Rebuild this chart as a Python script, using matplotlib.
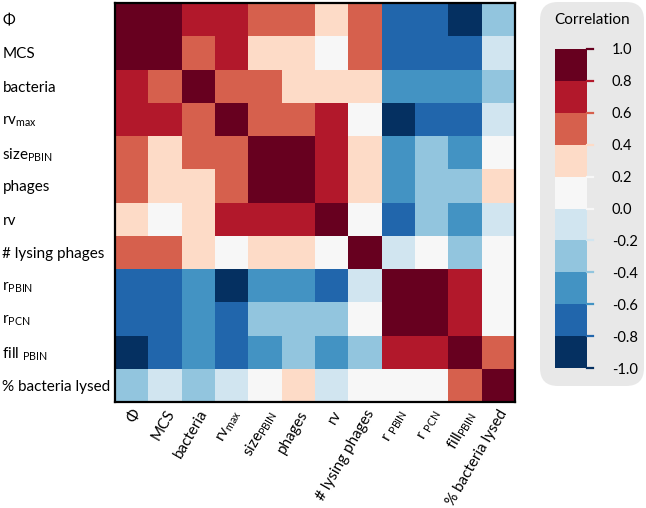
import numpy as np
import matplotlib
matplotlib.use("Agg")
import matplotlib.pyplot as plt
from matplotlib.colors import ListedColormap, BoundaryNorm
from matplotlib.patches import FancyBboxPatch

plt.rcParams['font.family'] = ['Lato', 'DejaVu Sans']
plt.rcParams['mathtext.default'] = 'regular'

# variable names (rows / columns)
row_labels = ['Φ', 'MCS', 'bacteria', r'rv$_{max}$', r'size$_{PBIN}$', 'phages', 'rv',
              '# lysing phages', r'r$_{PBIN}$', r'r$_{PCN}$', r'fill $_{PBIN}$', '% bacteria lysed']
col_labels = ['Φ', 'MCS', 'bacteria', r'rv$_{max}$', r'size$_{PBIN}$', 'phages', 'rv',
              '# lysing phages', r'r $_{PBIN}$', r'r $_{PCN}$', r'fill$_{PBIN}$', '% bacteria lysed']

# correlation values (estimated from the binned colours)
corr = np.array([
    [1.0, 0.9, 0.7, 0.7, 0.5, 0.5, 0.3, 0.5, -0.7, -0.7, -0.9, -0.3],
    [0.9, 1.0, 0.5, 0.7, 0.3, 0.3, 0.1, 0.5, -0.7, -0.7, -0.7, -0.1],
    [0.7, 0.5, 1.0, 0.5, 0.5, 0.3, 0.3, 0.3, -0.5, -0.5, -0.5, -0.3],
    [0.7, 0.7, 0.5, 1.0, 0.5, 0.5, 0.7, 0.1, -0.9, -0.7, -0.7, -0.1],
    [0.5, 0.3, 0.5, 0.5, 1.0, 0.9, 0.7, 0.3, -0.5, -0.3, -0.5, 0.1],
    [0.5, 0.3, 0.3, 0.5, 0.9, 1.0, 0.7, 0.3, -0.5, -0.3, -0.3, 0.3],
    [0.3, 0.1, 0.3, 0.7, 0.7, 0.7, 1.0, 0.1, -0.7, -0.3, -0.5, -0.1],
    [0.5, 0.5, 0.3, 0.1, 0.3, 0.3, 0.1, 1.0, -0.1, 0.1, -0.3, 0.1],
    [-0.7, -0.7, -0.5, -0.9, -0.5, -0.5, -0.7, -0.1, 1.0, 0.9, 0.7, 0.1],
    [-0.7, -0.7, -0.5, -0.7, -0.3, -0.3, -0.3, 0.1, 0.9, 1.0, 0.7, 0.1],
    [-0.9, -0.7, -0.5, -0.7, -0.5, -0.3, -0.5, -0.3, 0.7, 0.7, 1.0, 0.5],
    [-0.3, -0.1, -0.3, -0.1, 0.1, 0.3, -0.1, 0.1, 0.1, 0.1, 0.5, 1.0],
])

bounds = np.linspace(-1, 1, 11)
colors = ['#053061', '#2166ac', '#4393c3', '#92c5de', '#d1e5f0',
          '#f7f7f7', '#fddbc7', '#d6604d', '#b2182b', '#67001f']
cmap = ListedColormap(colors)
norm = BoundaryNorm(bounds, cmap.N)

W, H = 646, 508
fig = plt.figure(figsize=(W / 100, H / 100), dpi=100)

# rounded grey box behind the colorbar (its own axes, in pixel units)
bx, by, bw, bh = 540, 2, 104, 384
bg = fig.add_axes([bx / W, (H - by - bh) / H, bw / W, bh / H], zorder=0)
bg.set_xlim(0, bw)
bg.set_ylim(0, bh)
bg.axis('off')
bg.add_patch(FancyBboxPatch((0, 0), bw, bh, boxstyle="round,pad=0,rounding_size=18",
                            facecolor='#e8e8e8', edgecolor='none', clip_on=False))

ax = fig.add_axes([115 / W, (H - 402) / H, 400 / W, 399 / H])
mesh = ax.pcolormesh(corr, cmap=cmap, norm=norm)
ax.set_xlim(0, len(col_labels))
ax.set_ylim(len(row_labels), 0)
ax.set_xticks(np.arange(len(col_labels)) + 0.5)
ax.set_yticks(np.arange(len(row_labels)) + 0.5)
ax.set_xticklabels(col_labels, rotation=60, ha='right', rotation_mode='anchor', fontsize=11)
ax.set_yticklabels(row_labels, fontsize=11)
for lbl in ax.get_yticklabels():
    lbl.set_ha('left')
ax.tick_params(axis='y', length=0, pad=81)
ax.tick_params(axis='x', length=0, pad=4)
for s in ax.spines.values():
    s.set_linewidth(1.6)
    s.set_color('black')

# colorbar
cax = fig.add_axes([555 / W, (H - 368) / H, 32 / W, 319 / H], zorder=2)
cb = fig.colorbar(mesh, cax=cax, ticks=bounds)
cb.outline.set_visible(False)
cb.set_ticklabels(['%.1f' % b for b in bounds])
cax.tick_params(length=0, pad=18, labelsize=10.5)
# coloured tick marks, each in the colour of the neighbouring bin
tick_cols = colors[:5] + [colors[5]] + colors[5:]
for b, c in zip(bounds, tick_cols):
    cax.plot([1.0, 1.2], [b, b], color=c, lw=1.6, clip_on=False,
             transform=cax.get_yaxis_transform())
fig.text(592 / W, 1 - 20 / H, 'Correlation', ha='center', va='center', fontsize=11, zorder=3)

fig.savefig('out.png', dpi=100)
